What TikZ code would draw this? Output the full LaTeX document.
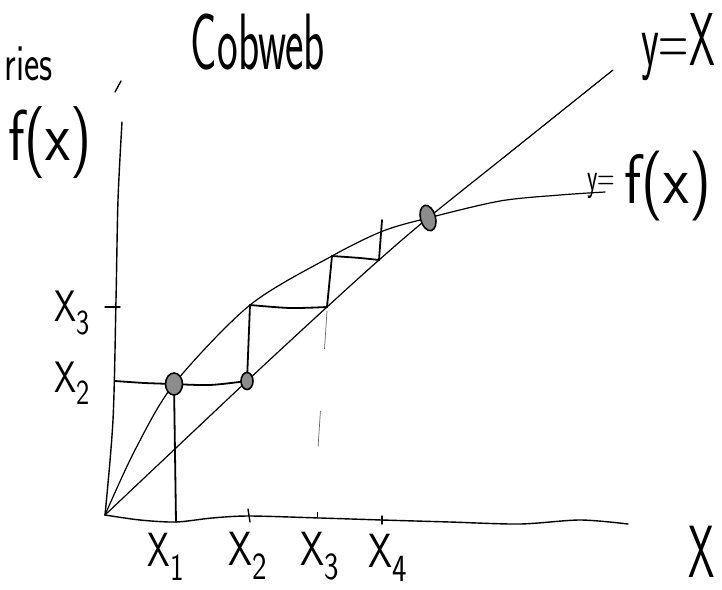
\documentclass[tikz,border=0pt]{standalone}
\usepackage{fontspec}
\usepackage{graphicx}
\usetikzlibrary{shapes.geometric}
\newcommand\lowsub[1]{\raisebox{-0.28em}{\scalebox{0.8}{#1}}}
\newcommand\nrw[2]{\scalebox{#1}[1]{#2}}
\tikzset{
  curve/.style={line width=1.2pt, line cap=round, line join=round},
  web/.style={line width=1.8pt, line cap=round, line join=round},
  axis/.style={line width=1.4pt, line cap=round, line join=round},
  blob/.style={ellipse, draw=black, fill=black!45, line width=1.6pt, inner sep=0pt},
  lbl/.style={inner sep=0pt},
  faint/.style={line width=0.7pt, black!60, dash pattern=on 38pt off 62pt on 36pt off 20pt},
}
\begin{document}
\begin{tikzpicture}[x=1pt,y=-1pt]
\useasboundingbox (0,0) rectangle (722,589);
% key points
\coordinate (O) at (105,515);
\coordinate (Yax1) at (113,420);
\coordinate (Yax2) at (116,300);
\coordinate (Yax3) at (118,200);
\coordinate (Ytop) at (122,122);
\coordinate (Ymk1) at (115,92);
\coordinate (Ymk2) at (121,81);
\coordinate (Xend) at (628,524);
\coordinate (A1) at (174,384);   % circle 1, on f
\coordinate (D2) at (247,381);   % circle 2, on diagonal
\coordinate (F2) at (250,305);
\coordinate (D3) at (327,307);
\coordinate (F3) at (332,256);
\coordinate (D4) at (379,260);
\coordinate (T4) at (382,220);
\coordinate (Fix) at (428,218);
\coordinate (B1) at (176,522);
\coordinate (Y2) at (115,381);
\coordinate (Dend) at (613,70);
\coordinate (Fend) at (605,192);
\coordinate (G3) at (318,448);

% axes
\draw[axis] plot[smooth] coordinates {(O) (140,520) (B1) (212,518) (249,516) (320,518) (382,520) (450,522) (520,524) (580,520) (Xend)};
\draw[axis] plot[smooth] coordinates {(O) (Yax1) (Yax2) (Yax3) (Ytop)};
\draw[axis] (Ymk1) -- (Ymk2);
% ticks
\draw[axis] (105,307) -- (120,307);
\draw[axis] (248,509) -- (250,522);
\draw[line width=0.9pt] (317,512) -- (317,518);
\draw[axis] (382,516) -- (382,524);

% y = x
\draw[curve] plot[smooth] coordinates {(O) (D2) (D3) (D4) (Fix) (513,150) (Dend)};
% f(x)
\draw[curve] plot[smooth] coordinates {(O) (135,450) (A1) (F2) (F3) (383,231) (Fix) (500,201) (560,195) (Fend)};

% cobweb
\draw[web] plot[smooth] coordinates {(Y2) (145,383) (A1)};
\draw[web] plot[smooth] coordinates {(A1) (210,385) (D2)};
\draw[web] (A1) -- (B1);
\draw[web] (D2) -- (F2);
\draw[web] plot[smooth] coordinates {(F2) (290,308) (D3)};
\draw[web] (D3) -- (F3);
\draw[web] plot[smooth] coordinates {(F3) (360,258) (D4)};
\draw[web] (T4) -- (D4);
\draw[faint] (327,311) -- (G3);

% fixed points
\node[blob, minimum width=17pt, minimum height=22pt] (c1) at (A1) {};
\node[blob, minimum width=12pt, minimum height=17pt] (c2) at (D2) {};
\node[blob, minimum width=15pt, minimum height=26pt, rotate=15] (c3) at (Fix) {};

% labels
\node[lbl, font=\sffamily\fontsize{52}{52}\selectfont, anchor=east] (ries) at (53,64) {\nrw{0.7}{ries}};
\node[lbl, font=\sffamily\fontsize{80}{80}\selectfont] (title) at (258,42) {\nrw{0.55}{Cobweb}};
\node[lbl, font=\sffamily\fontsize{72}{72}\selectfont] (fy) at (50,143) {\nrw{0.8}{f(x)}};
\node[lbl, font=\sffamily\fontsize{75}{75}\selectfont] (yx) at (678,47) {\nrw{0.55}{y=X}};
\node[lbl, font=\sffamily\fontsize{40}{40}\selectfont] (yeq) at (601,186) {\nrw{0.6}{y=}};
\node[lbl, font=\sffamily\fontsize{70}{70}\selectfont] (fx) at (668,186) {\nrw{0.85}{f(x)}};
\node[lbl, font=\sffamily\fontsize{44}{44}\selectfont] (lx3) at (72,313) {\nrw{0.8}{X\lowsub{3}}};
\node[lbl, font=\sffamily\fontsize{44}{44}\selectfont] (lx2) at (72,383) {\nrw{0.8}{X\lowsub{2}}};
\node[lbl, font=\sffamily\fontsize{48}{48}\selectfont] (b1) at (166,557) {\nrw{0.75}{X\lowsub{1}}};
\node[lbl, font=\sffamily\fontsize{48}{48}\selectfont] (b2) at (248,556) {\nrw{0.8}{X\lowsub{2}}};
\node[lbl, font=\sffamily\fontsize{48}{48}\selectfont] (b3) at (320,556) {\nrw{0.8}{X\lowsub{3}}};
\node[lbl, font=\sffamily\fontsize{48}{48}\selectfont] (b4) at (388,558) {\nrw{0.8}{X\lowsub{4}}};
\node[lbl, font=\sffamily\fontsize{74}{74}\selectfont] (bx) at (702,552) {\nrw{0.57}{X}};
\end{tikzpicture}
\end{document}
